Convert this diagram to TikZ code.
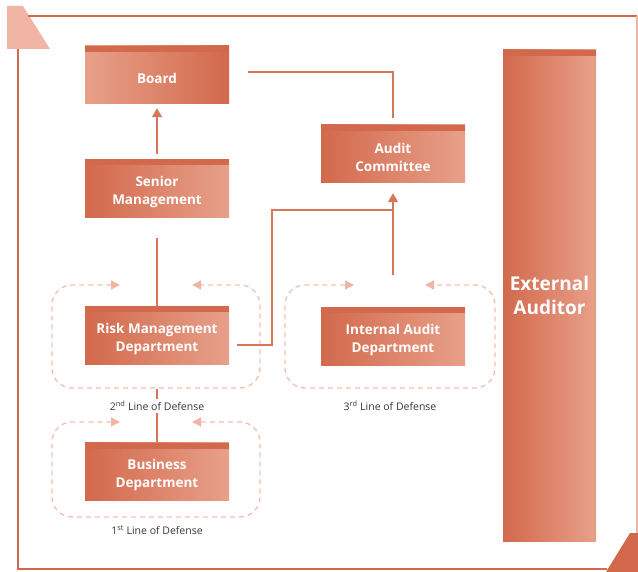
\documentclass[tikz,border=0pt]{standalone}
\usepackage{fontspec}
\setmainfont{Open Sans}
\usetikzlibrary{arrows.meta}

\definecolor{rustdark}{HTML}{D2694C}
\definecolor{rustlight}{HTML}{E8A08A}
\definecolor{rustline}{HTML}{D8765C}
\definecolor{blush}{HTML}{F0B5A5}
\definecolor{blushdash}{HTML}{F2C0B2}

\tikzset{
	unit/.style={minimum width=144pt, minimum height=58pt, inner sep=0pt, align=center,
		text=white, font=\fontsize{13.5}{18}\selectfont\bfseries,
		path picture={\fill[rustdark] (path picture bounding box.north west) rectangle ([yshift=-6pt]path picture bounding box.north east);}},
	darkleft/.style={unit, text height=36pt, left color=rustdark, right color=rustlight},
	darkright/.style={unit, text height=17pt, left color=rustlight, right color=rustdark},
	link/.style={rustline, line width=1.6pt},
	defense/.style={blushdash, line width=1.3pt, dash pattern=on 5pt off 4pt, rounded corners=20pt,
		{Triangle[width=9pt, length=9pt, fill=blush, color=blush]}-{Triangle[width=9pt, length=9pt, fill=blush, color=blush]}},
	tag/.style={fill=white, inner sep=2pt, font=\fontsize{10.5}{12}\selectfont, text=black!78}
}

\begin{document}
\begin{tikzpicture}[x=1pt, y=-1pt, >={Triangle[width=10pt, length=9pt]}]
	\useasboundingbox (0,0) rectangle (638,572);
	% frame
	\fill[blush] (7,6) -- (23,6) -- (50,49) -- (7,49) -- cycle;
	\fill[rustdark] (630,533) -- (638,533) -- (638,572) -- (606,572) -- cycle;
	\draw[rustdark, line width=1.2pt] (28,16) -- (637,16);
	\draw[blush, line width=1.2pt] (637,16) -- (637,533);
	\draw[rustdark, line width=1.2pt] (18,49) -- (18,569) -- (607,569);

	% lines of defense
	\draw[defense] (120,285) -- (52,285) -- (52,388) -- (260,388) -- (260,285) -- (192,285);
	\draw[defense] (354,285) -- (285,285) -- (285,388) -- (495,388) -- (495,285) -- (425,285);
	\draw[defense] (120,422) -- (52,422) -- (52,517) -- (260,517) -- (260,422) -- (192,422);

	% units
	\node[darkright] (board) at (157,75) {Board};
	\node[darkleft] (senior) at (157,188.5) {Senior\\Management};
	\node[darkleft] (audit) at (393,154) {Audit\\Committee};
	\node[darkleft] (risk) at (157,335.5) {Risk Management\\Department};
	\node[darkleft] (internal) at (393,336.5) {Internal Audit\\Department};
	\node[darkleft] (business) at (157,471.5) {Business\\Department};
	\node[unit, left color=rustdark, right color=rustlight, minimum width=93pt, minimum height=491pt,
		font=\fontsize{19}{24}\selectfont\bfseries] (external) at (549.5,295.5) {External\\Auditor};

	% reporting lines
	\draw[link, ->] ([yshift=5pt]senior.north) -- ([yshift=-4pt]board.south);
	\draw[link] ([yshift=-20pt]senior.south) -- (risk.north);
	\draw[link] ([xshift=19pt, yshift=3pt]board.east) -| ([yshift=7pt]audit.north);
	\coordinate (join) at ([yshift=-27pt]audit.south);
	\draw[link] ([xshift=8pt, yshift=-9.5pt]risk.east) -- ++(35,0) |- (join);
	\draw[link, ->] ([yshift=32pt]internal.north) -- ([yshift=-10pt]audit.south);
	\draw[link] ([yshift=-24pt]risk.south) -- (business.north);

	% labels
	\node[tag] (second) at (157,406) {2\textsuperscript{nd} Line of Defense};
	\node[tag] (third) at (390,406) {3\textsuperscript{rd} Line of Defense};
	\node[tag] (first) at (157,530) {1\textsuperscript{st} Line of Defense};
\end{tikzpicture}
\end{document}
